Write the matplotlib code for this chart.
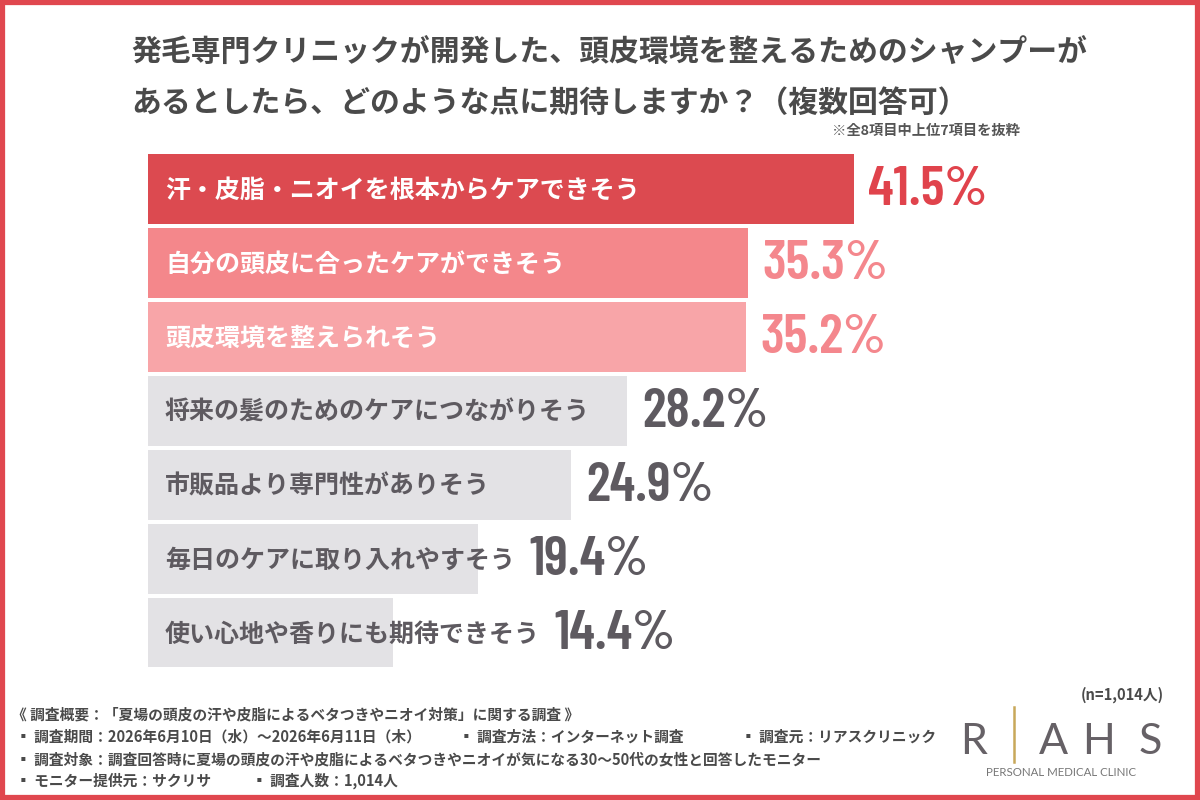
import matplotlib
matplotlib.use("Agg")
import matplotlib.pyplot as plt
from matplotlib.patches import Rectangle
import matplotlib.font_manager as fm

plt.rcParams['font.family'] = ['Noto Sans CJK JP', 'DejaVu Sans']

categories = [
    "汗・皮脂・ニオイを根本からケアできそう",
    "自分の頭皮に合ったケアができそう",
    "頭皮環境を整えられそう",
    "将来の髪のためのケアにつながりそう",
    "市販品より専門性がありそう",
    "毎日のケアに取り入れやすそう",
    "使い心地や香りにも期待できそう",
]
values = [41.5, 35.3, 35.2, 28.2, 24.9, 19.4, 14.4]
bar_colors = ["#DC4A50", "#F4878B", "#F8A5A8", "#E3E2E5", "#E3E2E5", "#E3E2E5", "#E3E2E5"]
label_colors = ["white", "white", "white", "#5E5A60", "#5E5A60", "#5E5A60", "#5E5A60"]
value_colors = ["#E0434C", "#F4878D", "#F4878D", "#5E5A60", "#5E5A60", "#5E5A60", "#5E5A60"]

title_lines = [
    "発毛専門クリニックが開発した、頭皮環境を整えるためのシャンプーが",
    "あるとしたら、どのような点に期待しますか？（複数回答可）",
]
note = "※全8項目中上位7項目を抜粋"
footer = [
    (12, 714, "《 調査概要：「夏場の頭皮の汗や皮脂によるベタつきやニオイ対策」に関する調査 》"),
    (16, 737, "▪ 調査期間：2026年6月10日（水）～2026年6月11日（木）"),
    (459, 737, "▪ 調査方法：インターネット調査"),
    (741, 737, "▪ 調査元：リアスクリニック"),
    (16, 759, "▪ 調査対象：調査回答時に夏場の頭皮の汗や皮脂によるベタつきやニオイが気になる30～50代の女性と回答したモニター"),
    (16, 781, "▪ モニター提供元：サクリサ"),
    (252, 781, "▪ 調査人数：1,014人"),
]
n_text = "(n=1,014人)"

W, H = 1200, 800
fig = plt.figure(figsize=(12, 8), dpi=100)
fig.patch.set_facecolor("white")

def fx(x):
    return x / W

def fy(y):
    return 1 - y / H

def pick(fams, default="DejaVu Sans"):
    for fam in fams:
        try:
            fm.findfont(fm.FontProperties(family=fam), fallback_to_default=False)
            return fam
        except Exception:
            continue
    return default

valfont = pick(["Barlow Condensed", "Roboto Condensed", "Liberation Sans Narrow"])
logofont = pick(["Lato", "Roboto"])

# border
fig.patches.append(Rectangle((0.002, 0.003), 0.996, 0.994, transform=fig.transFigure,
                             fill=False, edgecolor="#E0474F", linewidth=4.5, zorder=10))

# bar axes
px_per_pct = 17.0
ax_left, ax_right = 148, 1148
ax_top, ax_bot = 152, 669.5
ax = fig.add_axes([fx(ax_left), fy(ax_bot), (ax_right - ax_left) / W, (ax_bot - ax_top) / H])
ax.set_xlim(0, (ax_right - ax_left) / px_per_pct)
ax.set_ylim(len(values) - 0.5, -0.5)
ax.axis("off")
ypos = list(range(len(values)))
ax.barh(ypos, values, height=0.945, color=bar_colors, zorder=1)

fig.canvas.draw()
renderer = fig.canvas.get_renderer()
inv = ax.transData.inverted()

for i, (c, v) in enumerate(zip(categories, values)):
    t = ax.text(1.0, i + 0.03, c, va="center", ha="left", fontsize=18, fontweight="bold",
                color=label_colors[i], zorder=3)
    bb = t.get_window_extent(renderer=renderer)
    text_end = inv.transform((bb.x1, 0))[0]
    x0 = max(v, text_end) + 0.85
    ax.text(x0, i + 0.02, f"{v:.1f}%", va="center", ha="left", fontsize=40,
            fontweight="semibold", color=value_colors[i], family=valfont, zorder=3)

# title
fig.text(fx(131), fy(53), title_lines[0], fontsize=21.5, fontweight="bold", color="#4A4A4A",
         va="center", ha="left")
fig.text(fx(131), fy(103), title_lines[1], fontsize=21.5, fontweight="bold", color="#4A4A4A",
         va="center", ha="left")
fig.text(fx(1020), fy(131), note, fontsize=10.3, fontweight="bold", color="#555555",
         va="center", ha="right")

for x, y, t in footer:
    fig.text(fx(x), fy(y), t, fontsize=10.6, fontweight="bold", color="#4A4A4A",
             va="center", ha="left")
fig.text(fx(1122), fy(695), n_text, fontsize=10.6, fontweight="bold", color="#4A4A4A",
         va="center", ha="center")

# logo
logo_col = "#666166"
for lx, letter in [(974, "R"), (1053, "A"), (1099, "H"), (1150, "S")]:
    fig.text(fx(lx), fy(742), letter, fontsize=31, fontweight="normal", color=logo_col,
             va="center", ha="center", family=logofont)
fig.add_artist(plt.Line2D([fx(1014), fx(1014)], [fy(707), fy(762)], color="#C8A85A",
                          linewidth=1.8, transform=fig.transFigure))
fig.text(fx(1061), fy(773), "PERSONAL MEDICAL CLINIC", fontsize=8.3, color="#777777",
         va="center", ha="center", family=logofont)

fig.savefig("out.png", dpi=100, facecolor="white")
